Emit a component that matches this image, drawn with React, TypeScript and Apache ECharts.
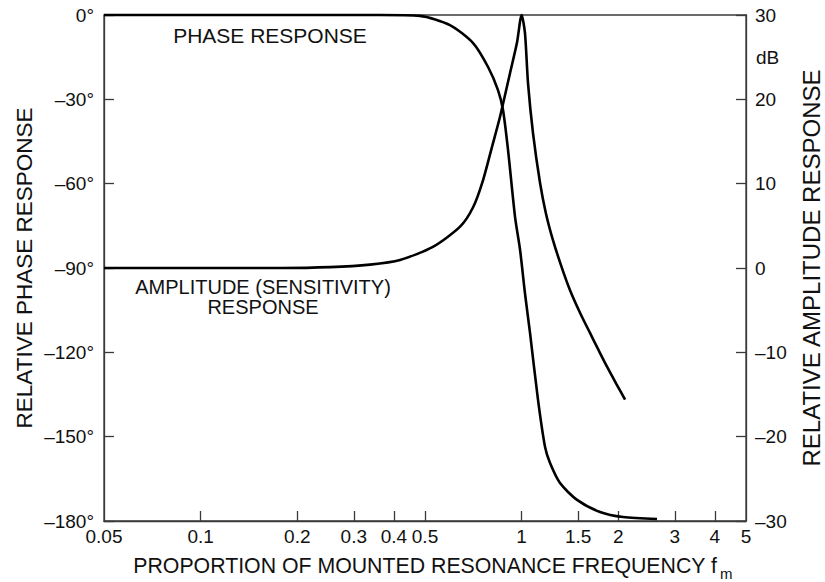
import React, { useEffect, useRef } from "react";
import * as echarts from "echarts";

// Frequency ticks / labels (proportion of mounted resonance frequency)
const xLabelValues = [0.05, 0.1, 0.2, 0.3, 0.4, 0.5, 1, 1.5, 2, 3, 4, 5];
const xTickValues = [0.1, 0.2, 0.3, 0.4, 0.5, 1, 1.5, 2, 3, 4];

// Phase response (degrees, left axis)
const freqPhase = [0.05, 0.1425, 0.362, 0.482, 0.598, 0.706, 0.786, 0.844, 0.875, 0.907, 0.954, 0.989, 1.024, 1.062, 1.125, 1.183, 1.226, 1.317, 1.488, 1.755, 2.07, 2.64];
const phaseDeg = [0, 0, 0, -0.3, -3.6, -10, -18.5, -26.7, -33.8, -48, -71.9, -83.6, -98.9, -113.1, -137, -153.7, -159.4, -166.5, -172.5, -176.8, -178.6, -179.3];

// Amplitude (sensitivity) response (dB, right axis)
const freqAmp = [0.05, 0.177, 0.253, 0.337, 0.418, 0.529, 0.643, 0.706, 0.758, 0.809, 0.856, 0.92, 0.967, 1.0, 1.024, 1.047, 1.085, 1.141, 1.19, 1.252, 1.33, 1.414, 1.52, 1.633, 1.74, 1.845, 1.97, 2.1];
const ampDb = [0, 0, 0.1, 0.4, 0.95, 2.5, 4.9, 7.2, 10.4, 14.4, 17.9, 23.1, 26.7, 30, 27.9, 21.9, 16, 10.1, 6.5, 3.3, 0.2, -2.6, -5.3, -7.7, -9.8, -11.7, -13.7, -15.6];

const FONT = "'Liberation Sans', Arial, Helvetica, sans-serif";
const INK = "#111";
const AXIS = "#3a3a3a";

export default function App() {
  const ref = useRef<HTMLDivElement>(null);
  useEffect(() => {
    if (!ref.current) return;
    const chart = echarts.init(ref.current, null, { renderer: "svg" });
    const fmtNum = (v: number) => String(parseFloat(Number(v).toPrecision(3)));
    const minus = (s: string) => s.replace("-", "\u2013");
    chart.setOption({
      animation: false,
      backgroundColor: "#fff",
      grid: {
        left: 104,
        right: 79,
        top: 15,
        bottom: 61,
        show: true,
        borderColor: AXIS,
        borderWidth: 1.3,
        containLabel: false,
      },
      xAxis: {
        type: "log",
        logBase: 10,
        min: 0.05,
        max: 5,
        position: "bottom",
        axisLine: { show: true, onZero: false, lineStyle: { color: AXIS, width: 1.3 } },
        axisTick: {
          show: true,
          inside: true,
          length: 10,
          customValues: xTickValues,
          lineStyle: { color: AXIS, width: 1.3 },
        },
        minorTick: { show: false },
        splitLine: { show: false },
        axisLabel: {
          customValues: xLabelValues,
          formatter: (v: number) => fmtNum(v),
          color: INK,
          fontFamily: FONT,
          fontSize: 19,
          margin: 6,
          showMinLabel: true,
          showMaxLabel: true,
        },
      },
      yAxis: [
        {
          type: "value",
          min: -180,
          max: 0,
          interval: 30,
          position: "left",
          axisLine: { show: true, onZero: false, lineStyle: { color: AXIS, width: 1.3 } },
          axisTick: { show: true, inside: true, length: 10, lineStyle: { color: AXIS, width: 1.3 } },
          splitLine: { show: false },
          axisLabel: {
            formatter: (v: number) => minus(String(v)) + "\u00b0",
            color: INK,
            fontFamily: FONT,
            fontSize: 19,
            margin: 10,
          },
        },
        {
          type: "value",
          min: -30,
          max: 30,
          interval: 10,
          position: "right",
          axisLine: { show: true, onZero: false, lineStyle: { color: AXIS, width: 1.3 } },
          axisTick: { show: true, inside: true, length: 10, lineStyle: { color: AXIS, width: 1.3 } },
          splitLine: { show: false },
          axisLabel: {
            formatter: (v: number) => minus(String(v)),
            color: INK,
            fontFamily: FONT,
            fontSize: 19,
            margin: 9,
          },
        },
      ],
      series: [
        {
          name: "Phase",
          type: "line",
          yAxisIndex: 0,
          data: freqPhase.map((f, i) => [f, phaseDeg[i]]),
          showSymbol: false,
          smooth: 0.25,
          clip: false,
          lineStyle: { color: "#000", width: 2.6 },
        },
        {
          name: "Amplitude",
          type: "line",
          yAxisIndex: 1,
          data: freqAmp.map((f, i) => [f, ampDb[i]]),
          showSymbol: false,
          smooth: 0.25,
          clip: false,
          lineStyle: { color: "#000", width: 2.6 },
        },
      ],
      graphic: [
        {
          type: "text",
          x: 270,
          y: 35,
          style: { text: "PHASE RESPONSE", font: `21px ${FONT}`, fill: INK, align: "center", verticalAlign: "middle" },
        },
        {
          type: "text",
          x: 263,
          y: 297,
          style: {
            text: "AMPLITUDE (SENSITIVITY)\nRESPONSE",
            font: `20px ${FONT}`,
            lineHeight: 20,
            fill: INK,
            align: "center",
            verticalAlign: "middle",
          },
        },
        {
          type: "text",
          x: 756,
          y: 57,
          style: { text: "dB", font: `19px ${FONT}`, fill: INK, align: "left", verticalAlign: "middle" },
        },
        {
          type: "text",
          x: 24,
          y: 268,
          rotation: Math.PI / 2,
          style: { text: "RELATIVE PHASE RESPONSE", font: `22.5px ${FONT}`, fill: INK, align: "center", verticalAlign: "middle" },
        },
        {
          type: "text",
          x: 811,
          y: 268,
          rotation: Math.PI / 2,
          style: { text: "RELATIVE AMPLITUDE RESPONSE", font: `24px ${FONT}`, fill: INK, align: "center", verticalAlign: "middle" },
        },
        {
          type: "text",
          x: 717,
          y: 566,
          style: {
            text: "PROPORTION OF MOUNTED RESONANCE FREQUENCY f",
            font: `21.3px ${FONT}`,
            fill: INK,
            align: "right",
            verticalAlign: "middle",
          },
        },
        {
          type: "text",
          x: 720,
          y: 573,
          style: { text: "m", font: `15px ${FONT}`, fill: INK, align: "left", verticalAlign: "middle" },
        },
      ],
    });
    return () => chart.dispose();
  }, []);
  return (
    <div
      ref={ref}
      style={{ position: "fixed", left: 0, top: 0, width: 825, height: 582, background: "#fff" }}
    />
  );
}
